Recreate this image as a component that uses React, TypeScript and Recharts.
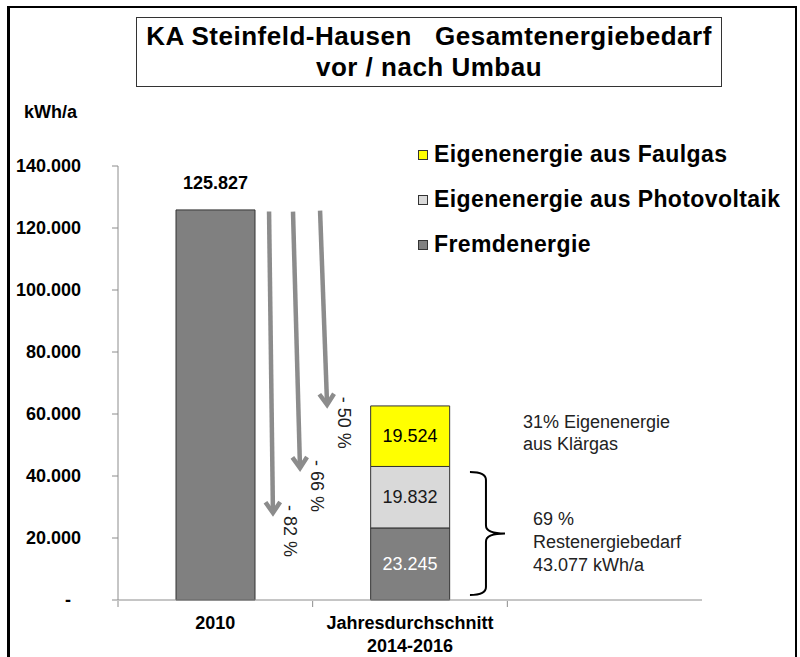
import {
  Bar,
  ComposedChart,
  LabelList,
  Legend,
  ReferenceArea,
  ReferenceDot,
  ReferenceLine,
  XAxis,
  YAxis,
} from "recharts"

document.body.style.margin = "0"

const FONT = '"Liberation Sans", Arial, sans-serif'

const categories = ["2010", "Jahresdurchschnitt\n2014-2016", ""]
const slotCenters = [0.5, 1.5, 2.5]
const fremdenergie = [125827, 23245, null]
const photovoltaik = [null, 19832, null]
const faulgas = [null, 19524, null]
const totals = [125827, 62600, null]
const yTicks = [0, 20000, 40000, 60000, 80000, 100000, 120000, 140000]
// Grenzen der Kategorien auf der Hilfsachse
const bandTicks = [0, 1, 2]

// Pfeile: x auf der Hilfsachse (0..3 = drei Kategorien), y in kWh/a
const arrowLabels = ["- 82 %", "- 66 %", "- 50 %"]
const arrowStartX = [0.776, 0.899, 1.038]
const arrowEndX = [0.796, 0.935, 1.074]
const arrowStartY = [125300, 125300, 125600]
const arrowEndY = [28100, 42600, 63000]

// geschweifte Klammer um Restenergiebedarf
const braceX = [1.808, 1.988]
const braceY = [1600, 41300]
const braceText = ["69 %", "Restenergiebedarf", "43.077 kWh/a"]
const eigenText = ["31% Eigenenergie", "aus Klärgas"]
const eigenPos = [2.08, 57500]

const COLORS = { fremd: "#808080", pv: "#d9d9d9", faul: "#ffff00" }

const data = categories.map((name, i) => ({
  name,
  slot: slotCenters[i],
  fremd: fremdenergie[i],
  pv: photovoltaik[i],
  faul: faulgas[i],
  total: totals[i],
}))

// Segmentwerte des gestapelten Balkens (Kategorie 2) mit Schriftfarbe
const STACK = 1
const segValues = [fremdenergie[STACK], photovoltaik[STACK], faulgas[STACK]] as number[]
const segTextColors = ["#fff", "#1a1a1a", "#000"]
const segMids = segValues.map(
  (v, i) => segValues.slice(0, i).reduce((a, b) => a + b, 0) + v / 2
)

const de = (n: number) => String(Math.round(n)).replace(/\B(?=(\d{3})+(?!\d))/g, ".")

const topKey = (row: any) => (row.faul != null ? "faul" : row.pv != null ? "pv" : "fremd")

const totalLabel = (key: string) => (p: any) => {
  const row = data[p.index]
  if (!row || row.total == null || topKey(row) !== key) return null
  return (
    <text
      x={p.x + p.width / 2}
      y={p.y - 27}
      textAnchor="middle"
      dominantBaseline="central"
      fontFamily={FONT}
      fontSize={18}
      fontWeight="bold"
      fill="#000"
    >
      {de(row.total)}
    </text>
  )
}

const segShape = (value: number, color: string) => (p: any) => (
  <text
    x={p.cx}
    y={p.cy}
    textAnchor="middle"
    dominantBaseline="central"
    fontFamily={FONT}
    fontSize={18}
    fill={color}
  >
    {de(value)}
  </text>
)

const YTick = ({ x, y, payload }: any) => (
  <text
    x={payload.value === 0 ? x - 10 : x}
    y={y}
    textAnchor="end"
    dominantBaseline="central"
    fontFamily={FONT}
    fontSize={18}
    fontWeight="bold"
    fill="#000"
  >
    {payload.value === 0 ? "-" : de(payload.value)}
  </text>
)

const CatTick = ({ x, y, payload }: any) => {
  const lines = String(payload.value).split("\n")
  return (
    <text textAnchor="middle" fontFamily={FONT} fontSize={18} fontWeight="bold" fill="#000">
      {lines.map((l, i) => (
        <tspan key={i} x={x} y={y + 21 + i * 23}>
          {l}
        </tspan>
      ))}
    </text>
  )
}

const arrowShape = (label: string) => (p: any) => {
  const { x1, y1, x2, y2 } = p
  const len = Math.hypot(x2 - x1, y2 - y1)
  const dx = (x2 - x1) / len
  const dy = (y2 - y1) / len
  const L = 13
  const a = 0.6
  const bx = -dx * Math.cos(a)
  const by = -dy * Math.cos(a)
  const px = -dy * Math.sin(a)
  const py = dx * Math.sin(a)
  return (
    <g>
      <line x1={x1} y1={y1} x2={x2 - dx * 2} y2={y2 - dy * 2} stroke="#8c8c8c" strokeWidth={4.5} />
      <polyline
        points={`${x2 + (bx + px) * L},${y2 + (by + py) * L} ${x2},${y2} ${x2 + (bx - px) * L},${y2 + (by - py) * L}`}
        fill="none"
        stroke="#8c8c8c"
        strokeWidth={4.5}
        strokeLinejoin="miter"
      />
      <text
        x={0}
        y={0}
        transform={`translate(${x2 + 17},${y2 - 8}) rotate(90)`}
        dominantBaseline="central"
        fontFamily={FONT}
        fontSize={18}
        fill="#222"
      >
        {label}
      </text>
    </g>
  )
}

const BraceShape = (p: any) => {
  const { x, y, width, height } = p
  const xm = x + 16
  const mid = y + height / 2
  const r = 8
  const d = [
    `M${x},${y}`,
    `Q${xm},${y} ${xm},${y + r}`,
    `L${xm},${mid - r}`,
    `Q${xm},${mid} ${x + width},${mid}`,
    `Q${xm},${mid} ${xm},${mid + r}`,
    `L${xm},${y + height - r}`,
    `Q${xm},${y + height} ${x},${y + height}`,
  ].join(" ")
  return (
    <g>
      <path d={d} fill="none" stroke="#000" strokeWidth={2} />
      <text fontFamily={FONT} fontSize={18} fill="#222">
        {braceText.map((l, i) => (
          <tspan key={i} x={x + width + 28} y={mid - 15 + i * 23 + 6}>
            {l}
          </tspan>
        ))}
      </text>
    </g>
  )
}

const EigenShape = (p: any) => (
  <text fontFamily={FONT} fontSize={18} fill="#222">
    {eigenText.map((l, i) => (
      <tspan key={i} x={p.cx} y={p.cy + 6 + i * 22}>
        {l}
      </tspan>
    ))}
  </text>
)

const LegendContent = ({ payload }: any) => (
  <div style={{ fontFamily: FONT }}>
    {(payload || []).map((e: any) => (
      <div key={e.value} style={{ display: "flex", alignItems: "center", height: 45 }}>
        <span
          style={{
            width: 10,
            height: 10,
            background: e.color,
            border: "1px solid #333",
            marginRight: 6,
            boxSizing: "border-box",
          }}
        />
        <span
          style={{
            fontSize: 23,
            letterSpacing: 0.4,
            fontWeight: "bold",
            color: "#000",
            whiteSpace: "nowrap",
          }}
        >
          {e.value}
        </span>
      </div>
    ))}
  </div>
)

export default function App() {
  return (
    <div style={{ position: "relative", width: 800, height: 657, overflow: "hidden", background: "#fff" }}>
      <ComposedChart
        width={800}
        height={657}
        data={data}
        margin={{ top: 166, right: 98, bottom: 7, left: 8 }}
        barSize={79}
      >
        <XAxis
          dataKey="name"
          axisLine={{ stroke: "#8c8c8c" }}
          tickLine={false}
          height={1}
          interval={0}
          tick={<CatTick />}
        />
        <XAxis
          xAxisId="num"
          dataKey="slot"
          type="number"
          domain={[0, 3]}
          allowDataOverflow
          ticks={bandTicks}
          interval={0}
          height={49}
          tickFormatter={() => ""}
          axisLine={false}
          tickLine={{ stroke: "#8c8c8c" }}
          tickSize={6}
        />
        <YAxis
          width={110}
          domain={[0, 140000]}
          ticks={yTicks}
          axisLine={{ stroke: "#8c8c8c" }}
          tickLine={{ stroke: "#8c8c8c" }}
          tickSize={6}
          tickMargin={31}
          tick={<YTick />}
        />
        <Legend
          layout="vertical"
          align="center"
          verticalAlign="middle"
          wrapperStyle={{ position: "absolute", left: 418, top: 132, width: 380 }}
          content={<LegendContent />}
        />
        <Bar dataKey="fremd" name="Fremdenergie" stackId="a" fill={COLORS.fremd} stroke="#333" isAnimationActive={false}>
          <LabelList dataKey="total" content={totalLabel("fremd")} />
        </Bar>
        <Bar dataKey="pv" name="Eigenenergie aus Photovoltaik" stackId="a" fill={COLORS.pv} stroke="#333" isAnimationActive={false} />
        <Bar dataKey="faul" name="Eigenenergie aus Faulgas" stackId="a" fill={COLORS.faul} stroke="#333" isAnimationActive={false}>
          <LabelList dataKey="total" content={totalLabel("faul")} />
        </Bar>
        {segValues.map((v, i) => (
          <ReferenceDot
            key={`seg${i}`}
            x={categories[STACK]}
            y={segMids[i]}
            r={0}
            shape={segShape(v, segTextColors[i])}
          />
        ))}
        {arrowLabels.map((lbl, i) => (
          <ReferenceLine
            key={lbl}
            xAxisId="num"
            segment={[
              { x: arrowStartX[i], y: arrowStartY[i] },
              { x: arrowEndX[i], y: arrowEndY[i] },
            ]}
            shape={arrowShape(lbl)}
          />
        ))}
        <ReferenceArea
          xAxisId="num"
          x1={braceX[0]}
          x2={braceX[1]}
          y1={braceY[0]}
          y2={braceY[1]}
          shape={<BraceShape />}
        />
        <ReferenceDot xAxisId="num" x={eigenPos[0]} y={eigenPos[1]} r={0} shape={<EigenShape />} />
      </ComposedChart>

      <div
        style={{
          position: "absolute",
          left: 136,
          top: 17,
          width: 586,
          height: 70,
          boxSizing: "border-box",
          border: "1.5px solid #333",
          fontFamily: FONT,
          fontWeight: "bold",
          fontSize: 26,
          letterSpacing: 0.5,
          lineHeight: "31px",
          paddingTop: 3,
          textAlign: "center",
          color: "#000",
          whiteSpace: "pre",
        }}
      >
        {"KA Steinfeld-Hausen   Gesamtenergiebedarf\nvor / nach Umbau"}
      </div>
      <div
        style={{
          position: "absolute",
          left: 24,
          top: 102,
          fontFamily: FONT,
          fontWeight: "bold",
          fontSize: 18,
          color: "#000",
        }}
      >
        kWh/a
      </div>
      <div
        style={{
          position: "absolute",
          left: 7,
          top: 6,
          width: 790,
          height: 700,
          boxSizing: "border-box",
          borderTop: "2px solid #000",
          borderRight: "2px solid #000",
          borderLeft: "3px solid #000",
          pointerEvents: "none",
        }}
      />
    </div>
  )
}
